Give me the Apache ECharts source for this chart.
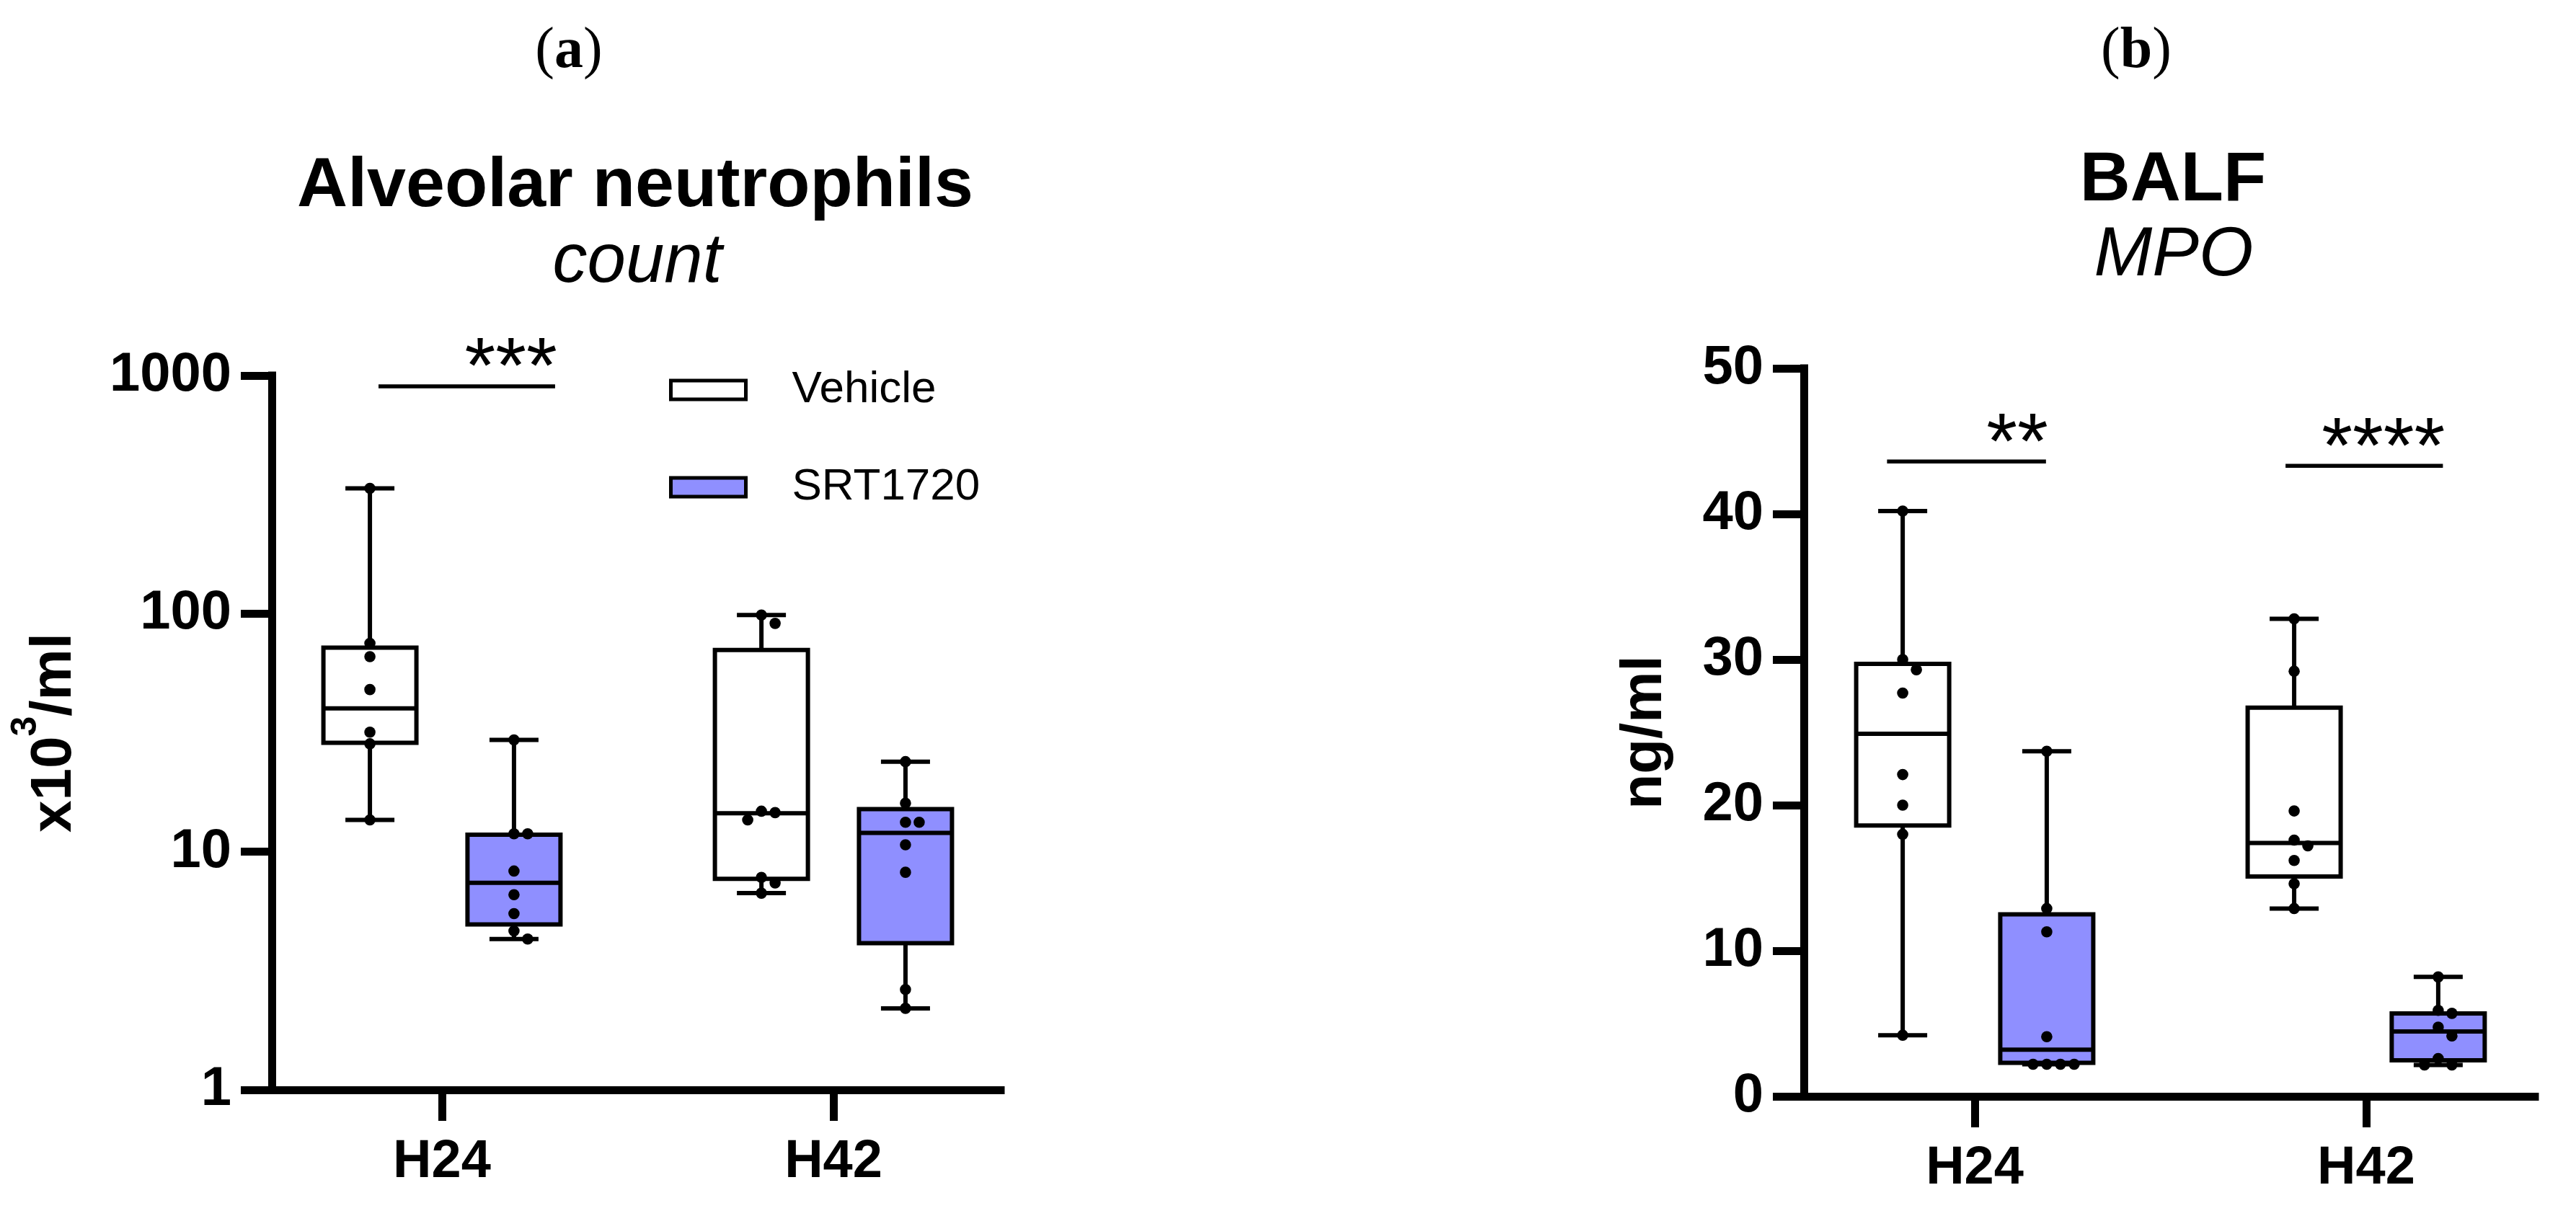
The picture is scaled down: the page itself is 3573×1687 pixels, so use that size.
<!DOCTYPE html>
<html>
<head>
<meta charset="utf-8">
<title>Alveolar neutrophils / BALF MPO</title>
<script src="https://cdn.jsdelivr.net/npm/echarts@6/dist/echarts.min.js"></script>
<style>
  html, body { margin: 0; padding: 0; background: #fff; }
  #chart { width: 3573px; height: 1687px; }
</style>
</head>
<body>
<div id="chart"></div>
<script>
// groups on the x axis
const groups = ["H24", "H42"];
const seriesNames = ["Vehicle", "SRT1720"];

// (a) alveolar neutrophils, x10^3/ml -- box = [min, Q1, median, Q3, max] per group
const neutroVehicleBox = [[13.6, 28.7, 40, 72, 336], [6.7, 7.7, 14.5, 70.4, 98.7]];
const neutroSrtBox = [[4.3, 4.95, 7.4, 11.8, 29.5], [2.2, 4.13, 12.0, 15.1, 23.9]];
const neutroVehicleDots = [[336, 75, 66, 48, 31.8, 28.4, 13.6], [98.7, 91, 14.8, 14.6, 13.6, 7.8, 7.4, 6.7]];
const neutroSrtDots = [[29.5, 11.9, 11.9, 8.3, 6.6, 5.5, 4.65, 4.3], [23.9, 16.0, 13.3, 13.3, 10.7, 8.2, 2.64, 2.2]];
const neutroTicks = [1, 10, 100, 1000];

// (b) BALF MPO, ng/ml
const mpoVehicleBox = [[4.2, 18.6, 24.9, 29.7, 40.2], [12.9, 15.1, 17.4, 26.7, 32.8]];
const mpoSrtBox = [[2.2, 2.3, 3.2, 12.5, 23.7], [2.15, 2.48, 4.46, 5.69, 8.2]];
const mpoVehicleDots = [[40.2, 30.0, 29.3, 27.7, 22.1, 20.0, 18.0, 4.2], [32.8, 29.2, 19.6, 17.6, 17.2, 16.2, 14.6, 12.9]];
const mpoSrtDots = [[23.7, 12.9, 11.3, 4.1, 2.2, 2.2, 2.2, 2.2], [8.2, 5.9, 5.7, 4.75, 4.15, 2.6, 2.15, 2.15]];

// significance bars: [x start, x end, y] in axis units, and their labels
const sigA = [[0.838, 1.289, 901]];
const sigALabels = ["***"];
const sigB = [[0.776, 1.182, 43.6], [1.794, 2.196, 43.3]];
const sigBLabels = ["**", "****"];

const SANS = "'Liberation Sans', Arial, sans-serif";
const SERIF = "'Liberation Serif', 'Times New Roman', serif";
const PURPLE = "#8f8fff";
const SIDE = 0.184; // half distance between the two boxes of a group (x units)

const chart = echarts.init(document.getElementById("chart"));

function boxData(boxes, side) {
  return boxes.map((b, i) => [i + 1 + side * SIDE].concat(b));
}

function renderBox(params, api) {
  const x = api.value(0);
  const pMin = api.coord([x, api.value(1)]);
  const pQ1 = api.coord([x, api.value(2)]);
  const pMed = api.coord([x, api.value(3)]);
  const pQ3 = api.coord([x, api.value(4)]);
  const pMax = api.coord([x, api.value(5)]);
  const cx = pMed[0];
  const bw = 129, cw = 68;
  const line = { stroke: "#000", lineWidth: 6 };
  return {
    type: "group",
    children: [
      { type: "line", shape: { x1: cx, y1: pQ3[1], x2: cx, y2: pMax[1] }, style: line },
      { type: "line", shape: { x1: cx, y1: pQ1[1], x2: cx, y2: pMin[1] }, style: line },
      { type: "line", shape: { x1: cx - cw / 2, y1: pMax[1], x2: cx + cw / 2, y2: pMax[1] }, style: line },
      { type: "line", shape: { x1: cx - cw / 2, y1: pMin[1], x2: cx + cw / 2, y2: pMin[1] }, style: line },
      {
        type: "rect",
        shape: { x: cx - bw / 2, y: pQ3[1], width: bw, height: pQ1[1] - pQ3[1] },
        style: { fill: api.visual("color"), stroke: "#000", lineWidth: 6 }
      },
      { type: "line", shape: { x1: cx - bw / 2, y1: pMed[1], x2: cx + bw / 2, y2: pMed[1] }, style: line }
    ]
  };
}

// dots of a group, spread sideways when they would overlap
function dotRenderer(dots) {
  return function (params, api) {
    const x = api.value(0);
    const r = 7.8, step = 19;
    const pts = dots[params.dataIndex].map(v => api.coord([x, v]));
    pts.sort((a, b) => a[1] - b[1]);
    const placed = [];
    const order = [0, 1, -1, 2, -2, 3, -3];
    pts.forEach(p => {
      for (const k of order) {
        const px = p[0] + k * step;
        const hit = placed.some(q => Math.abs(q[0] - px) < 2 * r && Math.abs(q[1] - p[1]) < 2 * r);
        if (!hit) { placed.push([px, p[1]]); break; }
      }
    });
    return {
      type: "group",
      children: placed.map(q => ({ type: "circle", shape: { cx: q[0], cy: q[1], r: r }, style: { fill: "#000" } }))
    };
  };
}

function sigRenderer(labels) {
  return function (params, api) {
    const y = api.value(2);
    const p1 = api.coord([api.value(0), y]);
    const p2 = api.coord([api.value(1), y]);
    return {
      type: "group",
      children: [
        { type: "line", shape: { x1: p1[0], y1: p1[1], x2: p2[0], y2: p2[1] }, style: { stroke: "#000", lineWidth: 5.5 } },
        {
          type: "text", x: p2[0] + 3, y: p1[1] - 22,
          style: { text: labels[params.dataIndex], fontSize: 110, fontFamily: SANS, fill: "#000", align: "right", verticalAlign: "middle" }
        }
      ]
    };
  };
}

function xAxis(gridIndex, min, max) {
  return {
    gridIndex: gridIndex, type: "value", min: min, max: max,
    axisLine: { show: true, lineStyle: { color: "#000", width: 11, cap: "square" } },
    axisTick: { show: true, customValues: [1, 2], length: 43, lineStyle: { color: "#000", width: 11 } },
    axisLabel: {
      customValues: [1, 2], formatter: v => groups[Math.round(v) - 1],
      margin: 64, fontSize: 74, fontWeight: "bold", fontFamily: SANS, color: "#000"
    },
    splitLine: { show: false }
  };
}

const yCommon = {
  axisLine: { show: true, lineStyle: { color: "#000", width: 11, cap: "square" } },
  axisTick: { show: true, length: 43, lineStyle: { color: "#000", width: 11 } },
  axisLabel: { margin: 56, fontSize: 76, fontWeight: "bold", fontFamily: SANS, color: "#000" },
  splitLine: { show: false },
  nameLocation: "middle",
  nameRotate: 90
};

const series = [];
[
  [0, neutroVehicleBox, neutroSrtBox, neutroVehicleDots, neutroSrtDots],
  [1, mpoVehicleBox, mpoSrtBox, mpoVehicleDots, mpoSrtDots]
].forEach(([g, vb, sb, vd, sd]) => {
  series.push({ type: "custom", name: seriesNames[0], xAxisIndex: g, yAxisIndex: g, itemStyle: { color: "#fff" },
    renderItem: renderBox, data: boxData(vb, -1), encode: { x: 0, y: [1, 5] }, silent: true });
  series.push({ type: "custom", name: seriesNames[1], xAxisIndex: g, yAxisIndex: g, itemStyle: { color: PURPLE },
    renderItem: renderBox, data: boxData(sb, 1), encode: { x: 0, y: [1, 5] }, silent: true });
  series.push({ type: "custom", name: seriesNames[0], xAxisIndex: g, yAxisIndex: g, itemStyle: { color: "#fff" },
    renderItem: dotRenderer(vd), data: boxData(vb, -1), encode: { x: 0, y: [1, 5] }, silent: true });
  series.push({ type: "custom", name: seriesNames[1], xAxisIndex: g, yAxisIndex: g, itemStyle: { color: PURPLE },
    renderItem: dotRenderer(sd), data: boxData(sb, 1), encode: { x: 0, y: [1, 5] }, silent: true });
});
series.push({ type: "custom", xAxisIndex: 0, yAxisIndex: 0, renderItem: sigRenderer(sigALabels), data: sigA, silent: true });
series.push({ type: "custom", xAxisIndex: 1, yAxisIndex: 1, renderItem: sigRenderer(sigBLabels), data: sigB, silent: true });

chart.setOption({
  backgroundColor: "#fff",
  animation: false,
  grid: [
    { left: 377, top: 521, width: 1011, height: 991 },
    { left: 2502, top: 511, width: 1014, height: 1010 }
  ],
  xAxis: [xAxis(0, 0.5654, 2.4272), xAxis(1, 0.5635, 2.431)],
  yAxis: [
    Object.assign({}, yCommon, {
      gridIndex: 0, type: "log", logBase: 10, min: neutroTicks[0], max: neutroTicks[neutroTicks.length - 1],
      axisLabel: Object.assign({}, yCommon.axisLabel, { formatter: v => String(Math.round(v)) }),
      name: "{a|x10}{s|3}{a|/ml}", nameGap: 236,
      nameTextStyle: {
        rich: {
          a: { fontSize: 80, fontWeight: "bold", fontFamily: SANS, color: "#000", lineHeight: 130 },
          s: { fontSize: 50, fontWeight: "bold", fontFamily: SANS, color: "#000", lineHeight: 50, verticalAlign: "top" }
        }
      }
    }),
    Object.assign({}, yCommon, {
      gridIndex: 1, type: "value", min: 0, max: 50, interval: 10,
      name: "ng/ml", nameGap: 180,
      nameTextStyle: { fontSize: 80, fontWeight: "bold", fontFamily: SANS, color: "#000" }
    })
  ],
  legend: {
    orient: "vertical", left: 928, top: 510, padding: 0,
    itemWidth: 104, itemHeight: 26, itemGap: 73,
    selectedMode: false,
    textStyle: { fontSize: 62, fontFamily: SANS, color: "#000", padding: [0, 0, 0, 59] },
    data: [
      { name: seriesNames[0], icon: "rect", itemStyle: { color: "#fff", borderColor: "#000", borderWidth: 5 } },
      { name: seriesNames[1], icon: "rect", itemStyle: { color: PURPLE, borderColor: "#000", borderWidth: 5 } }
    ]
  },
  graphic: [
    { type: "text", x: 789, y: 72, style: { text: "{p|(}{b|a}{p|)}", align: "center", verticalAlign: "middle",
      rich: { p: { fontSize: 80, fontFamily: SERIF, fill: "#000" }, b: { fontSize: 80, fontFamily: SERIF, fontWeight: "bold", fill: "#000" } } } },
    { type: "text", x: 2963, y: 72, style: { text: "{p|(}{b|b}{p|)}", align: "center", verticalAlign: "middle",
      rich: { p: { fontSize: 80, fontFamily: SERIF, fill: "#000" }, b: { fontSize: 80, fontFamily: SERIF, fontWeight: "bold", fill: "#000" } } } },
    { type: "text", x: 881, y: 259, style: { text: "Alveolar neutrophils", fontSize: 97, fontWeight: "bold", fontFamily: SANS, fill: "#000", align: "center", verticalAlign: "middle" } },
    { type: "text", x: 884, y: 364, style: { text: "count", fontSize: 96, fontStyle: "italic", fontFamily: SANS, fill: "#000", align: "center", verticalAlign: "middle" } },
    { type: "text", x: 3014, y: 251, style: { text: "BALF", fontSize: 97, fontWeight: "bold", fontFamily: SANS, fill: "#000", align: "center", verticalAlign: "middle" } },
    { type: "text", x: 3015, y: 355, style: { text: "MPO", fontSize: 97, fontStyle: "italic", fontFamily: SANS, fill: "#000", align: "center", verticalAlign: "middle" } }
  ],
  series: series
});
</script>
</body>
</html>
